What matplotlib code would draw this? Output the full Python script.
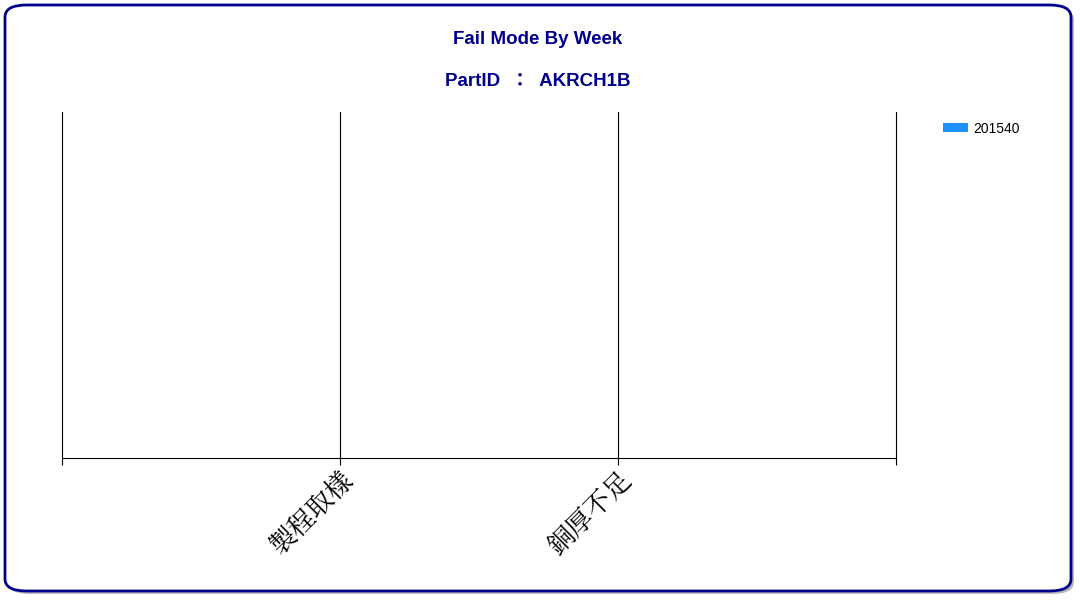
import matplotlib
matplotlib.use('Agg')
import matplotlib.pyplot as plt
from matplotlib.patches import FancyBboxPatch

categories = ['製程取樣', '銅厚不足']
positions = [1, 2]
series_name = '201540'
values = [0, 0]

fig = plt.figure(figsize=(10.8, 6), dpi=100)

# rounded frame with a soft shadow
shadow = FancyBboxPatch((8 / 1080, 6 / 600), 1066 / 1080, 586 / 600,
                        boxstyle='round,pad=0,rounding_size=0.02',
                        transform=fig.transFigure, fc='#bbbbbb', ec='none', zorder=0)
frame = FancyBboxPatch((5 / 1080, 9 / 600), 1066 / 1080, 586 / 600,
                       boxstyle='round,pad=0,rounding_size=0.02',
                       transform=fig.transFigure, fc='white', ec='#00008B', lw=2, zorder=1)
fig.patches.extend([shadow, frame])

fig.text(0.498, 1 - 39 / 600, 'Fail Mode By Week', ha='center', va='center',
         fontsize=13.5, fontweight='bold', color='#00008B', family='Liberation Sans')
fig.text(0.498, 1 - 81 / 600, 'PartID  ：  AKRCH1B', ha='center', va='center',
         fontsize=13.5, fontweight='bold', color='#00008B',
         family=['Liberation Sans', 'Noto Sans CJK TC'])

ax = fig.add_axes([62 / 1080, 1 - 458 / 600, (896 - 62) / 1080, (458 - 112) / 600])
ax.set_zorder(2)
ax.patch.set_alpha(0)
ax.bar(positions, values, width=0.6, color='#1E90FF', label=series_name)
ax.set_xlim(0, 3)
ax.set_ylim(0, 1)
for s in ['top', 'left', 'right']:
    ax.spines[s].set_visible(False)
ax.spines['bottom'].set_linewidth(0.8)
for x in range(4):
    ax.axvline(x, color='black', lw=0.8, clip_on=False)
ax.set_yticks([])
ax.set_xticks(range(4))
ax.set_xticklabels([''] + categories + [''], rotation=45, ha='right',
                   rotation_mode='anchor', fontsize=19,
                   family=['Noto Serif CJK TC', 'Noto Sans CJK TC'])
ax.tick_params(axis='x', length=5, width=0.8, pad=1)

fig.legend(loc='upper left', bbox_to_anchor=(937 / 1080, 1 - 116 / 600),
           frameon=False, prop={'family': 'Liberation Sans', 'size': 10},
           handlelength=1.8, handleheight=0.6, handletextpad=0.4,
           borderaxespad=0)

fig.savefig('out.png', dpi=100)
